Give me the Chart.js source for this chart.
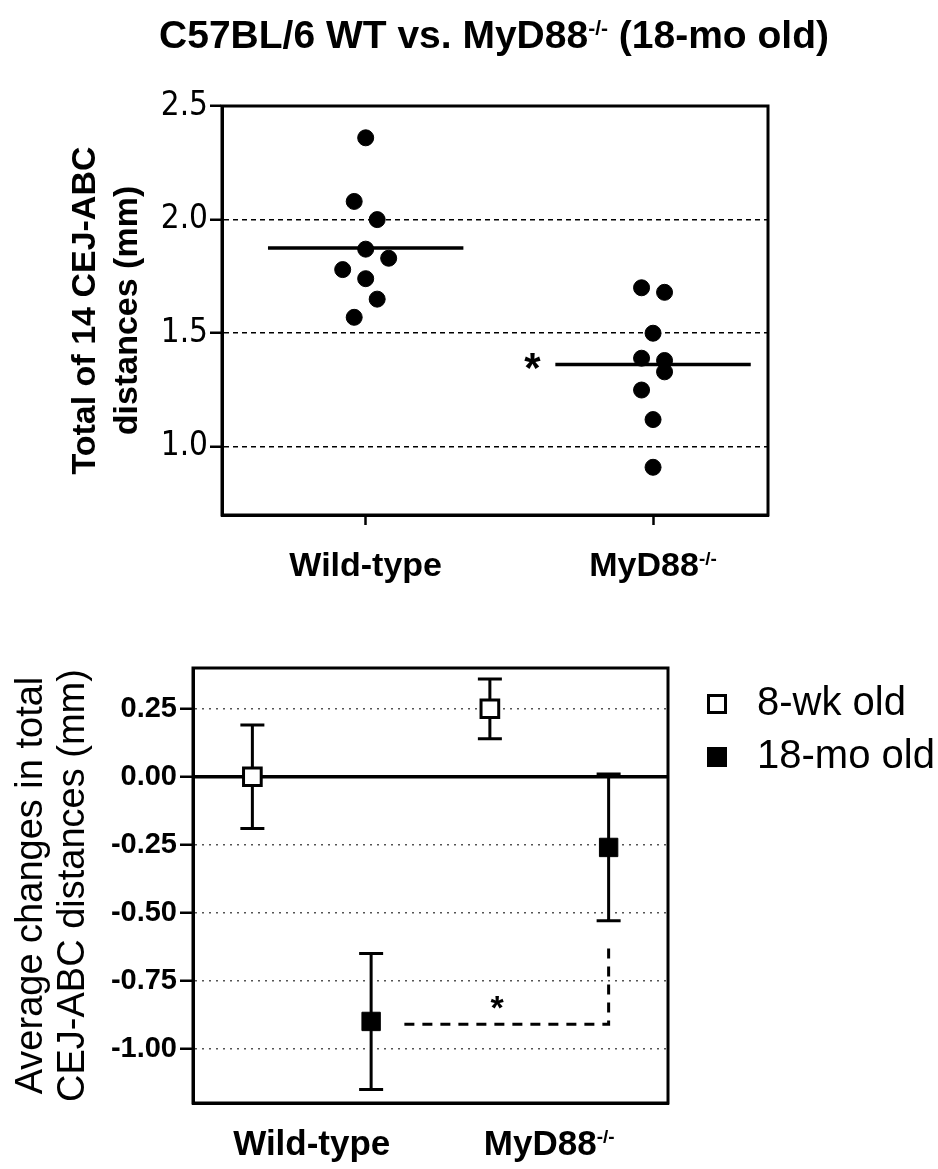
<!DOCTYPE html>
<html>
<head>
<meta charset="utf-8">
<script src="https://cdn.jsdelivr.net/npm/chart.js@4.4.0/dist/chart.umd.min.js"></script>
<style>
  html, body { margin: 0; padding: 0; background: #fff; }
  #wrap { position: relative; width: 938px; height: 1169px; }
  .box { position: absolute; left: 0; width: 938px; }
  #top { top: 0; height: 600px; }
  #bottom { top: 600px; height: 569px; }
</style>
</head>
<body>
<div id="wrap">
  <div class="box" id="top"><canvas id="chartTop"></canvas></div>
  <div class="box" id="bottom"><canvas id="chartBottom"></canvas></div>
</div>
<script>
// --- top panel: total of 14 CEJ-ABC distances (mm), 18-mo old mice
const groups = ['Wild-type', 'MyD88'];
const groupSup = ['', '-/-'];
const wtTotal = [2.36, 2.08, 2.00, 1.87, 1.83, 1.78, 1.74, 1.65, 1.57];
const wtJitter = [0, -0.04, 0.04, 0, 0.08, -0.08, 0, 0.04, -0.04];
const koTotal = [1.70, 1.68, 1.50, 1.39, 1.38, 1.33, 1.25, 1.12, 0.91];
const koJitter = [-0.04, 0.04, 0, -0.04, 0.04, 0.04, -0.04, 0, 0];
const topTicks = [1.0, 1.5, 2.0, 2.5];
const topStar = [1.58, 1.39];

// --- bottom panel: average change in total distances, mean +/- error
const ageLabels = ['8-wk old', '18-mo old'];
const change8wk = [0.00, 0.25];
const err8wk = [0.19, 0.11];
const change18mo = [-0.90, -0.26];
const err18mo = [0.25, 0.27];
const bottomTicks = [0.25, 0.00, -0.25, -0.50, -0.75, -1.00];
const sigX = [1.39, 2.25, 2.25];
const sigY = [-0.91, -0.91, -0.63];
const bottomStar = [1.78, -0.82];

const SANS = "'Liberation Sans', Arial, Helvetica, sans-serif";
const NARROW = "'Liberation Sans Narrow', 'Arial Narrow', 'DejaVu Sans Condensed', sans-serif";

const meanOf = a => a.reduce((s, v) => s + v, 0) / a.length;

// text with superscript parts, centred on cx, baseline at y
function drawRich(ctx, parts, cx, y, size, weight) {
  const mainFont = weight + ' ' + size + 'px ' + SANS;
  const supFont = weight + ' ' + Math.round(size * 0.55) + 'px ' + SANS;
  let total = 0;
  const widths = parts.map(p => {
    ctx.font = p[1] ? supFont : mainFont;
    const w = ctx.measureText(p[0]).width;
    total += w;
    return w;
  });
  let x = cx - total / 2;
  ctx.textAlign = 'left';
  ctx.textBaseline = 'alphabetic';
  ctx.fillStyle = '#000';
  parts.forEach((p, i) => {
    ctx.font = p[1] ? supFont : mainFont;
    ctx.fillText(p[0], x, p[1] ? y - size * 0.33 : y);
    x += widths[i];
  });
}

function drawStar(ctx, x, y, size) {
  ctx.font = 'bold ' + size + 'px ' + SANS;
  ctx.textAlign = 'center';
  ctx.textBaseline = 'alphabetic';
  ctx.fillStyle = '#000';
  ctx.fillText('*', x, y + size * 0.57);
}

const topDecor = {
  id: 'topDecor',
  afterDraw(chart) {
    const {ctx, chartArea: a, scales} = chart;
    ctx.save();
    ctx.strokeStyle = '#000';
    ctx.lineWidth = 3;
    ctx.strokeRect(a.left, a.top, a.right - a.left, a.bottom - a.top);
    drawRich(ctx, [['C57BL/6 WT vs. MyD88', false], ['-/-', true], [' (18-mo old)', false]], 494, 48, 39, 'bold');
    groups.forEach((g, i) => {
      drawRich(ctx, [[g, false], [groupSup[i], true]], scales.x.getPixelForValue(i + 1), 576, 34, 'bold');
    });
    drawStar(ctx, scales.x.getPixelForValue(topStar[0]), scales.y.getPixelForValue(topStar[1]), 42);
    ctx.restore();
  }
};

new Chart(document.getElementById('chartTop'), {
  type: 'scatter',
  data: {
    datasets: [
      {
        label: 'Wild-type',
        data: wtTotal.map((v, i) => ({x: 1 + wtJitter[i], y: v})),
        backgroundColor: '#000', borderColor: '#000', pointRadius: 8, pointHoverRadius: 8
      },
      {
        label: 'MyD88-/-',
        data: koTotal.map((v, i) => ({x: 2 + koJitter[i], y: v})),
        backgroundColor: '#000', borderColor: '#000', pointRadius: 8, pointHoverRadius: 8
      },
      {
        type: 'line', label: 'WT mean',
        data: [{x: 0.66, y: meanOf(wtTotal)}, {x: 1.34, y: meanOf(wtTotal)}],
        borderColor: '#000', borderWidth: 3.5, pointRadius: 0, showLine: true
      },
      {
        type: 'line', label: 'KO mean',
        data: [{x: 1.66, y: meanOf(koTotal)}, {x: 2.34, y: meanOf(koTotal)}],
        borderColor: '#000', borderWidth: 3.5, pointRadius: 0, showLine: true
      }
    ]
  },
  options: {
    responsive: true,
    maintainAspectRatio: false,
    animation: false,
    layout: {padding: {left: 0, top: 106, right: 170, bottom: 0}},
    plugins: {legend: {display: false}, tooltip: {enabled: false}},
    scales: {
      x: {
        type: 'linear', min: 0.5, max: 2.4,
        afterBuildTicks: s => { s.ticks = [{value: 1}, {value: 2}]; },
        afterFit: s => { s.height = 85; },
        ticks: {display: false},
        grid: {display: true, drawOnChartArea: false, drawTicks: true, tickLength: 10,
               tickColor: '#000', tickWidth: 2.5, color: '#000'},
        border: {display: true, color: '#000', width: 3}
      },
      y: {
        min: 0.7, max: 2.5,
        afterBuildTicks: s => { s.ticks = topTicks.map(v => ({value: v})); },
        afterFit: s => { s.width = 222; },
        ticks: {color: '#000', font: {family: NARROW, size: 33}, padding: 2, callback: v => v.toFixed(1)},
        grid: {color: '#000', lineWidth: 1.5, tickColor: '#000', tickWidth: 2.5, tickLength: 12, tickBorderDash: []},
        border: {display: true, color: '#000', width: 3, dash: [5, 4]},
        title: {
          display: true, text: ['Total of 14 CEJ-ABC', 'distances (mm)'], color: '#000',
          font: {family: SANS, size: 34, weight: 'bold', lineHeight: 1.25},
          padding: {top: 64, bottom: 0}
        }
      }
    }
  },
  plugins: [topDecor]
});

const errorBars = {
  id: 'errorBars',
  beforeDatasetsDraw(chart) {
    const {ctx, scales} = chart;
    ctx.save();
    ctx.strokeStyle = '#000';
    ctx.lineWidth = 3;
    const bar = (x, m, e) => {
      const px = scales.x.getPixelForValue(x);
      const hi = scales.y.getPixelForValue(m + e);
      const lo = scales.y.getPixelForValue(m - e);
      ctx.beginPath();
      ctx.moveTo(px, hi); ctx.lineTo(px, lo);
      ctx.moveTo(px - 12, hi); ctx.lineTo(px + 12, hi);
      ctx.moveTo(px - 12, lo); ctx.lineTo(px + 12, lo);
      ctx.stroke();
    };
    change8wk.forEach((m, i) => bar(i + 1 - 0.25, m, err8wk[i]));
    change18mo.forEach((m, i) => bar(i + 1 + 0.25, m, err18mo[i]));
    ctx.restore();
  }
};

const bottomDecor = {
  id: 'bottomDecor',
  afterDraw(chart) {
    const {ctx, chartArea: a, scales} = chart;
    ctx.save();
    ctx.strokeStyle = '#000';
    ctx.lineWidth = 3;
    ctx.strokeRect(a.left, a.top, a.right - a.left, a.bottom - a.top);
    groups.forEach((g, i) => {
      drawRich(ctx, [[g, false], [groupSup[i], true]], scales.x.getPixelForValue(i + 1), 555, 35, 'bold');
    });
    drawStar(ctx, scales.x.getPixelForValue(bottomStar[0]), scales.y.getPixelForValue(bottomStar[1]), 34);
    // legend
    ageLabels.forEach((lab, i) => {
      const cy = 104 + i * 53;
      if (i === 0) {
        ctx.fillStyle = '#fff';
        ctx.fillRect(708.5, cy - 8.5, 17, 17);
        ctx.lineWidth = 3;
        ctx.strokeRect(708.5, cy - 8.5, 17, 17);
      } else {
        ctx.fillStyle = '#000';
        ctx.fillRect(707, cy - 10, 20, 20);
      }
      ctx.fillStyle = '#000';
      ctx.font = '40px ' + SANS;
      ctx.textAlign = 'left';
      ctx.textBaseline = 'middle';
      ctx.fillText(lab, 757, cy);
    });
    ctx.restore();
  }
};

const isZero = c => c.tick && Math.abs(c.tick.value) < 1e-9;

new Chart(document.getElementById('chartBottom'), {
  type: 'scatter',
  data: {
    datasets: [
      {
        label: ageLabels[0],
        data: change8wk.map((v, i) => ({x: i + 1 - 0.25, y: v})),
        pointStyle: 'rect', pointRadius: 12.5, pointHoverRadius: 12.5,
        backgroundColor: '#fff', borderColor: '#000', borderWidth: 3
      },
      {
        label: ageLabels[1],
        data: change18mo.map((v, i) => ({x: i + 1 + 0.25, y: v})),
        pointStyle: 'rect', pointRadius: 13, pointHoverRadius: 13,
        backgroundColor: '#000', borderColor: '#000', borderWidth: 1
      },
      {
        type: 'line', label: 'significance',
        data: sigX.map((x, i) => ({x: x, y: sigY[i]})),
        borderColor: '#000', borderWidth: 3, borderDash: [10, 8], pointRadius: 0,
        showLine: true, fill: false, tension: 0
      }
    ]
  },
  options: {
    responsive: true,
    maintainAspectRatio: false,
    animation: false,
    layout: {padding: {left: 0, top: 68, right: 270, bottom: 0}},
    plugins: {legend: {display: false}, tooltip: {enabled: false}},
    scales: {
      x: {
        type: 'linear', min: 0.5, max: 2.5,
        afterFit: s => { s.height = 66; },
        ticks: {display: false},
        grid: {display: false},
        border: {display: true, color: '#000', width: 3}
      },
      y: {
        min: -1.2, max: 0.4,
        afterBuildTicks: s => { s.ticks = bottomTicks.map(v => ({value: v})); },
        afterFit: s => { s.width = 193; },
        ticks: {color: '#000', font: {family: SANS, size: 29, weight: 'bold'}, padding: 3,
                callback: v => v.toFixed(2)},
        grid: {
          color: c => isZero(c) ? '#000' : '#555',
          lineWidth: c => isZero(c) ? 3.5 : 1.5,
          tickColor: '#000', tickWidth: 2.5, tickLength: 13, tickBorderDash: []
        },
        border: {display: true, color: '#000', width: 3, dash: c => isZero(c) ? [] : [2, 5]},
        title: {
          display: true, text: ['Average changes in total', 'CEJ-ABC distances (mm)'], color: '#000',
          font: {family: SANS, size: 38, lineHeight: 1.1},
          padding: {top: 11, bottom: 0}
        }
      }
    }
  },
  plugins: [errorBars, bottomDecor]
});
</script>
</body>
</html>
